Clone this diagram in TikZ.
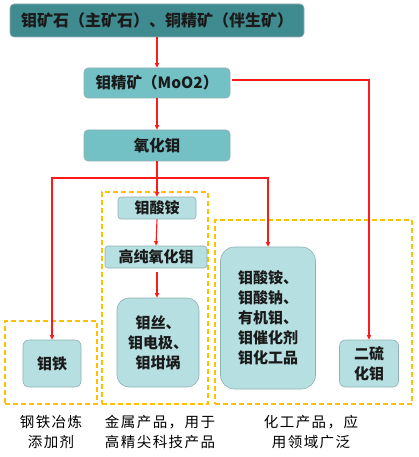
\documentclass[tikz,border=0pt]{standalone}
\usepackage{fontspec}
\setmainfont{Noto Sans CJK SC}
\usetikzlibrary{arrows.meta}
\definecolor{darkteal}{HTML}{3F8B90}
\definecolor{midteal}{HTML}{73C1C5}
\definecolor{lightteal}{HTML}{B6DFE1}
\definecolor{boxedge}{HTML}{8FAFB1}
\definecolor{redline}{HTML}{FF1A1A}
\definecolor{orangedash}{HTML}{FFC000}
\definecolor{txt}{HTML}{1A1A1A}
\begin{document}
\begin{tikzpicture}[x=1pt,y=-1pt,
  base/.style={draw=boxedge, line width=0.6pt, inner sep=0pt, align=center, text=txt, font=\fontsize{15}{20}\selectfont\bfseries},
  darkbox/.style={base, fill=darkteal, rounded corners=4pt, font=\fontsize{16}{20}\selectfont\bfseries},
  midbox/.style={base, fill=midteal, rounded corners=4pt, font=\fontsize{15.5}{20}\selectfont\bfseries},
  lightbox/.style={base, fill=lightteal},
  conn/.style={draw=redline, line width=1.1pt},
  arr/.style={conn, -{Triangle[length=4.5pt,width=4pt]}},
  groupbox/.style={draw=orangedash, line width=1.4pt, dash pattern=on 5pt off 3pt, inner sep=0pt},
  caption/.style={align=center, text=black, font=\fontsize{14.5}{20}\selectfont\addfontfeature{LetterSpace=10}}
]
\useasboundingbox (0,0) rectangle (418,457);

% dashed groups
\node[groupbox, minimum width=92pt, minimum height=83pt] (g1) at (51,362.5) {};
\node[groupbox, minimum width=106pt, minimum height=212pt] (g2) at (155,298) {};
\node[groupbox, minimum width=197pt, minimum height=184pt] (g3) at (313.5,312) {};

% boxes
\node[darkbox, minimum width=294pt, minimum height=33pt] (top) at (157,20.5) {钼矿石（主矿石）、铜精矿（伴生矿）};
\node[midbox, minimum width=146pt, minimum height=30pt] (mo2) at (157,83) {钼精矿（MoO2）};
\node[midbox, minimum width=146pt, minimum height=31pt] (oxide) at (157,145.5) {氧化钼};
\node[lightbox, rounded corners=3pt, minimum width=78pt, minimum height=22pt] (amm) at (157,208) {钼酸铵};
\node[lightbox, rounded corners=3pt, minimum width=102pt, minimum height=22pt] (hp) at (156,257) {高纯氧化钼};
\node[lightbox, rounded corners=12pt, minimum width=82pt, minimum height=89pt] (wire) at (158,342.5) {钼丝、\\钼电极、\\钼坩埚};
\node[lightbox, rounded corners=6pt, minimum width=58pt, minimum height=47pt] (femo) at (52,363.5) {钼铁};
\node[lightbox, rounded corners=14pt, minimum width=95pt, minimum height=142pt] (chem) at (268,318) {钼酸铵、\\钼酸钠、\\有机钼、\\钼催化剂\\钼化工品};
\node[lightbox, rounded corners=6pt, minimum width=59pt, minimum height=47pt] (mos2) at (369,363.5) {二硫\\化钼};

% connectors
\coordinate (jm) at (157,178);
\coordinate (mo2r) at (232,80);
\draw[arr] (top.south) -- (mo2.north);
\draw[arr] (mo2.south) -- (oxide.north);
\draw[arr] (mo2r) -| (mos2.north);
\draw[conn] (oxide.south) -- (jm);
\draw[arr] (jm) -| (femo.north);
\draw[arr] (jm) -| (chem.north);
\draw[arr] (jm) -- (amm.north);
\draw[arr] (amm.south) -- (hp.north);
\coordinate (hpb) at (157,272);
\draw[arr] (hpb) -- (wire.north -| hpb);

% captions
\node[caption] (c1) at (51,432) {钢铁冶炼\\添加剂};
\node[caption] (c2) at (160,432) {金属产品，用于\\高精尖科技产品};
\node[caption] (c3) at (311,432) {化工产品，应\\用领域广泛};
\end{tikzpicture}
\end{document}
